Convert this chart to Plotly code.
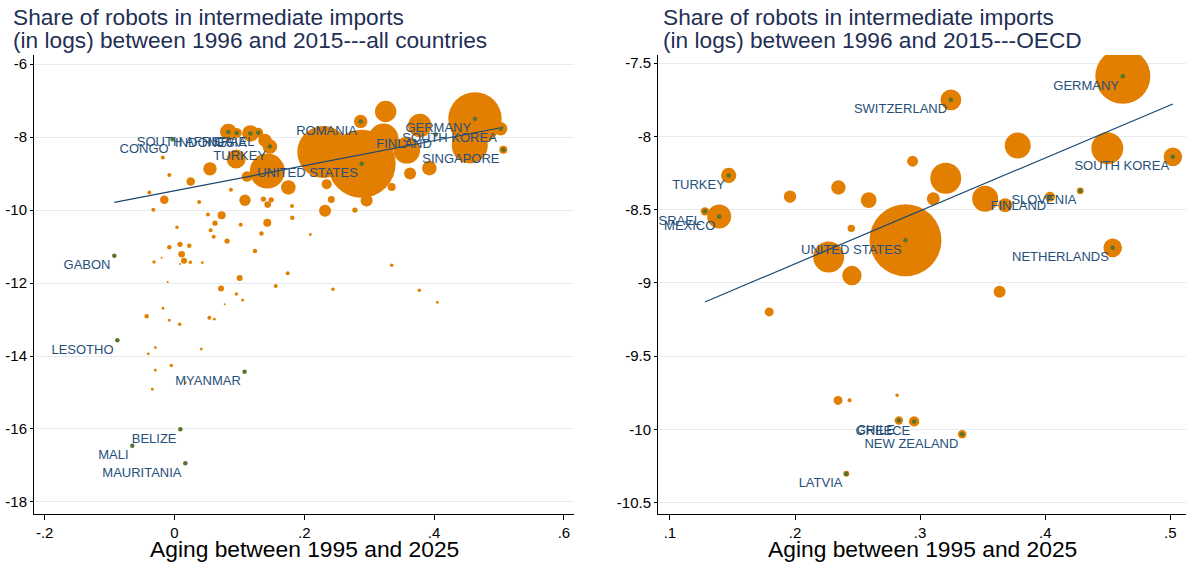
import plotly.graph_objects as go

# Design constants
W, H = 1186, 569
ORANGE = "#E27E00"
GREEN = "#55752F"
NAVY = "#1A476F"
LABEL_NAVY = "#26507A"
TITLE_NAVY = "#1F2F55"
GRID = "#E4ECEF"
FONT = "Liberation Sans, Arial, sans-serif"

# ---------------- data: all countries (left panel) ----------------
# label: None = plain bubble, "" = marked point without text
all_x = [0.463, 0.455, 0.5026, 0.5067, 0.378, 0.3254, 0.358, 0.322, 0.2869, 0.2293,
         0.2884, 0.363, 0.3927, 0.3347, 0.296, 0.2345, 0.2417, 0.232, 0.278, 0.2093,
         0.143, 0.147, 0.1394, 0.083, 0.0958, 0.117, 0.129, 0.095, 0.1754, 0.1086,
         0.137, 0.149, 0.1436, 0.181, 0.1815, 0.0547, 0.025, -0.008, -0.0388, -0.0157,
         0.038, 0.087, 0.1117, -0.0326, 0.0516, 0.0727, 0.0624, 0.102, 0.143, 0.0039,
         0.0557, 0.0604, 0.134, 0.081, 0.0085, -0.008, 0.0228, 0.011, 0.0146, 0.0244,
         0.0085, -0.0198, -0.0316, 0.0429, 0.124, 0.1004, 0.1744, -0.0105, 0.0717, 0.156,
         0.0953, 0.105, 0.0773, -0.0177, -0.0429, -0.008, 0.008, 0.0537, 0.0614, -0.0295,
         -0.0403, 0.0413, -0.0295, -0.0049, -0.0342, 0.0167, 0.3347, 0.2442, 0.3772, 0.405,
         -0.018,
         -0.003, -0.0927, -0.088, 0.108, 0.009, -0.065, 0.0167, 0.4024]
all_y = [-7.50, -8.23, -7.77, -8.35, -7.68, -7.30, -8.36, -8.04, -7.57, -8.41,
         -8.73, -9.00, -8.85, -9.37, -9.74, -9.29, -9.71, -10.02, -10.00, -10.67,
         -8.93, -8.26, -8.09, -7.86, -7.885, -7.90, -7.88, -8.60, -9.38, -9.73,
         -9.70, -9.72, -9.85, -9.89, -10.21, -8.87, -9.22, -9.04, -9.52, -9.72,
         -9.78, -9.44, -9.08, -9.99, -10.12, -10.14, -10.36, -10.40, -10.35, -10.47,
         -10.55, -10.73, -10.64, -10.85, -10.94, -11.02, -10.98, -11.21, -11.39, -11.43,
         -11.48, -11.31, -11.42, -11.44, -11.12, -11.86, -11.73, -11.97, -12.15, -12.08,
         -12.30, -12.47, -12.58, -12.69, -12.91, -13.02, -13.13, -12.95, -12.99, -13.77,
         -13.94, -13.81, -14.39, -14.26, -14.91, -14.73, -11.51, -12.17, -12.20, -12.53,
         -8.56,
         -8.06, -11.25, -13.57, -14.43, -16.01, -16.46, -16.94, -7.93]
all_w = [713, 324, 45, 16, 137, 114, 177, 225, 45, 676,
         1156, 36, 53, 16, 36, 25, 12, 36, 7, 2,
         306, 53, 45, 69, 25, 69, 25, 90, 53, 32,
         7, 7, 11, 4, 5, 45, 18, 4, 4, 18,
         4, 4, 28, 4, 4, 16, 7, 4, 16, 3,
         4, 4, 5, 7, 7, 5, 5, 11, 9, 3,
         1, 1, 3, 2, 5, 9, 4, 1, 9, 4,
         3, 2, 1, 2, 5, 2, 3, 4, 2, 2,
         2, 2, 2, 3, 2, 2, 3, 3, 3, 2,
         4,
         1, 1, 1, 1, 1, 1, 1, 1]
all_label = ["GERMANY", None, "SOUTH KOREA", "SINGAPORE", None, None, None, None, "ROMANIA", None,
             "UNITED STATES", None, None, None, None, None, None, None, None, None,
             None, "TURKEY", None, "", "SOUTH AFRICA", "INDONESIA", "ISRAEL", None, None, None] + \
            [None] * 61 + \
            ["CONGO", "GABON", "LESOTHO", "MYANMAR", "BELIZE", "MALI", "MAURITANIA", "FINLAND"]
all_fit_x = [-0.0927, 0.5067]
all_fit_y = [-9.79, -7.73]

# ---------------- data: OECD (right panel) ----------------
oecd_x = [0.462, 0.3246, 0.378, 0.4496, 0.502, 0.294, 0.3205, 0.147, 0.2347, 0.196,
          0.2589, 0.3105, 0.352, 0.368, 0.4038, 0.428, 0.128, 0.1394, 0.245, 0.2883,
          0.2269, 0.4539, 0.2455, 0.1794, 0.3635, 0.2344, 0.2436, 0.2816, 0.283, 0.2952,
          0.3336, 0.241]
oecd_y = [-7.59, -7.751, -8.063, -8.081, -8.14, -8.17, -8.286, -8.267, -8.349, -8.412,
          -8.435, -8.426, -8.426, -8.47, -8.412, -8.372, -8.512, -8.547, -8.628, -8.709,
          -8.823, -8.761, -8.95, -9.198, -9.061, -9.802, -9.80, -9.766, -9.939, -9.945,
          -10.032, -10.302]
oecd_w = [756, 108, 169, 256, 86, 30, 240, 58, 52, 38,
          62, 42, 169, 49, 25, 12, 18, 144, 14, 1296,
          240, 86, 94, 20, 36, 20, 4, 3, 18, 27,
          18, 9]
oecd_label = ["GERMANY", "SWITZERLAND", None, None, "SOUTH KOREA", None, None, "TURKEY", None, None,
              None, None, None, None, "FINLAND", "SLOVENIA", "ISRAEL", "MEXICO", None, "UNITED STATES",
              None, "NETHERLANDS", None, None, None, None, None, None, "CHILE", "GREECE",
              "NEW ZEALAND", "LATVIA"]
oecd_fit_x = [0.128, 0.502]
oecd_fit_y = [-9.13, -7.779]

x_label = "Aging between 1995 and 2025"
title_all = ["Share of robots in intermediate imports",
             "(in logs) between 1996 and 2015---all countries"]
title_oecd = ["Share of robots in intermediate imports",
              "(in logs) between 1996 and 2015---OECD"]


def fmt(v):
    s = ("%g" % v)
    return s.replace("0.", ".") if abs(v) < 1 else s


def px_x(p):
    return p / W


def px_y(p):
    return 1 - p / H


def add_panel(fig, xs, ys, ws, labels, fit_x, fit_y, xa, ya):
    fig.add_trace(go.Scatter(
        x=xs, y=ys, mode="markers", xaxis=xa, yaxis=ya,
        marker=dict(size=ws, sizemode="area", sizeref=0.5, color=ORANGE,
                    line=dict(width=0), opacity=1),
        hoverinfo="skip", showlegend=False))
    fig.add_trace(go.Scatter(
        x=fit_x, y=fit_y, mode="lines", xaxis=xa, yaxis=ya,
        line=dict(color=NAVY, width=1.2), showlegend=False))
    idx = [i for i, l in enumerate(labels) if l is not None]
    fig.add_trace(go.Scatter(
        x=[xs[i] for i in idx], y=[ys[i] for i in idx],
        text=[labels[i] for i in idx], mode="markers+text",
        textposition="bottom left", xaxis=xa, yaxis=ya,
        textfont=dict(size=13, color=LABEL_NAVY, family=FONT),
        marker=dict(size=4.5, color=GREEN),
        showlegend=False))


fig = go.Figure()
add_panel(fig, all_x, all_y, all_w, all_label, all_fit_x, all_fit_y, "x", "y")
add_panel(fig, oecd_x, oecd_y, oecd_w, oecd_label, oecd_fit_x, oecd_fit_y, "x2", "y2")

ydom = [px_y(514), px_y(55)]
axis_common = dict(showline=True, linecolor="black", linewidth=1, ticks="outside",
                   tickcolor="black", zeroline=False, automargin=False,
                   tickfont=dict(size=15, color="black", family=FONT))

left_xt = [-0.2, 0, 0.2, 0.4, 0.6]
left_yt = [-18, -16, -14, -12, -10, -8, -6]
right_xt = [0.1, 0.2, 0.3, 0.4, 0.5]
right_yt = [-10.5, -10, -9.5, -9, -8.5, -8, -7.5]

fig.update_layout(
    width=W, height=H,
    paper_bgcolor="white", plot_bgcolor="white",
    margin=dict(l=0, r=0, t=0, b=0),
    font=dict(family=FONT, color="black"),
    xaxis=dict(domain=[px_x(34), px_x(574)], range=[-0.2165, 0.6156], anchor="y",
               tickvals=left_xt, ticktext=[fmt(v) for v in left_xt], showgrid=False,
               ticklen=5, **axis_common),
    yaxis=dict(domain=ydom, range=[-18.33, -5.75], anchor="x",
               tickvals=left_yt, ticktext=[fmt(v) for v in left_yt], ticklen=3,
               showgrid=True, gridcolor=GRID, gridwidth=1.2, **axis_common),
    xaxis2=dict(domain=[px_x(658), 1.0], range=[0.0905, 0.5125], anchor="y2",
                tickvals=right_xt, ticktext=[fmt(v) for v in right_xt], showgrid=False,
                ticklen=5, **axis_common),
    yaxis2=dict(domain=ydom, range=[-10.577, -7.445], anchor="x2",
                tickvals=right_yt, ticktext=[fmt(v) for v in right_yt], ticklen=3,
                showgrid=True, gridcolor=GRID, gridwidth=1.2, **axis_common),
)

annotations = []
for x0, lines in [(11, title_all), (661, title_oecd)]:
    for k, line in enumerate(lines):
        annotations.append(dict(
            text=line, x=px_x(x0), y=px_y(17 + 23 * k), xref="paper", yref="paper",
            xanchor="left", yanchor="middle", showarrow=False,
            font=dict(size=22.7, color=TITLE_NAVY, family=FONT)))
for xc in [(34 + 574) / 2, (658 + 1186) / 2]:
    annotations.append(dict(
        text=x_label, x=px_x(xc), y=px_y(549), xref="paper", yref="paper",
        xanchor="center", yanchor="middle", showarrow=False,
        font=dict(size=22.8, color="black", family=FONT)))
fig.update_layout(annotations=annotations)

# drop the default page margin so the figure sits at the window corner
fig.write_html("out.html", config={"displayModeBar": False},
               post_script="document.body.style.margin='0';")
